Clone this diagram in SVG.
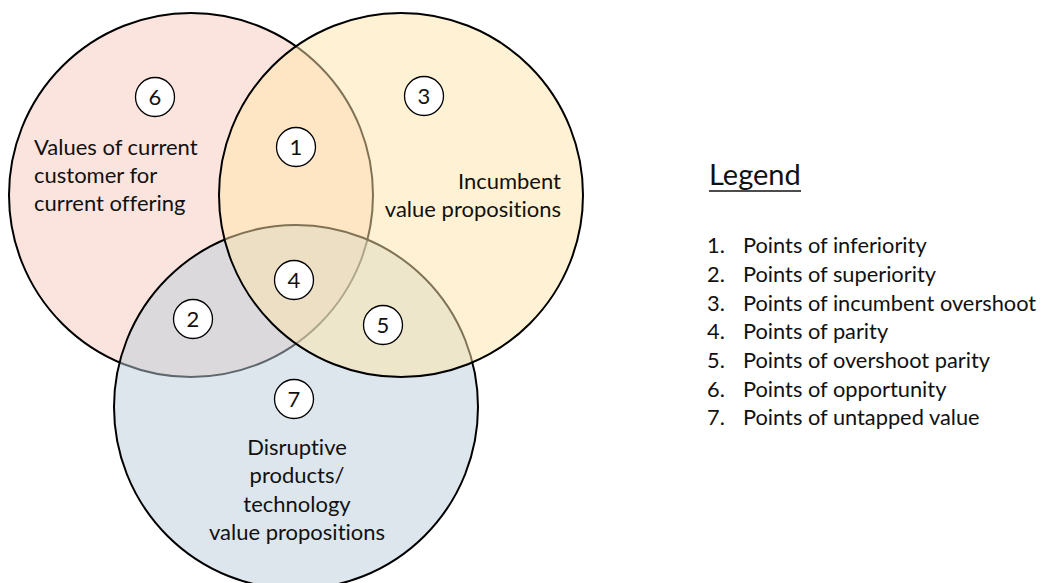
<svg xmlns="http://www.w3.org/2000/svg" width="1044" height="583" viewBox="0 0 1044 583">
  <style>
    text { font-variant-ligatures: none; font-family: Lato, "Liberation Sans", sans-serif; fill: #111; }
    .big { stroke: #000; stroke-width: 2; fill-opacity: 0.5; }
    .num circle { fill: #fff; stroke: #000; stroke-width: 1.3; }
    .num text { font-size: 22px; text-anchor: middle; }
    .lbl { font-size: 22px; }
    .leg { font-size: 21.8px; }
  </style>
  <rect width="1044" height="583" fill="#fff"/>
  <g id="circle-current">
    <circle class="big" cx="191" cy="195" r="182" fill="#F9C9BD"/>
  </g>
  <g id="circle-disruptive">
    <circle class="big" cx="296" cy="407" r="182" fill="#B9CDD9"/>
  </g>
  <g id="circle-incumbent">
    <circle class="big" cx="401" cy="195" r="182" fill="#FFE5A9"/>
  </g>
  <g id="labels">
    <text class="lbl" x="34" y="155">Values of current</text>
    <text class="lbl" x="34" y="183">customer for</text>
    <text class="lbl" x="34" y="211">current offering</text>
    <text class="lbl" x="561" y="189" text-anchor="end">Incumbent</text>
    <text class="lbl" x="561" y="217" text-anchor="end">value propositions</text>
    <text class="lbl" x="297" y="455" text-anchor="middle">Disruptive</text>
    <text class="lbl" x="297" y="483" text-anchor="middle">products/</text>
    <text class="lbl" x="297" y="512" text-anchor="middle">technology</text>
    <text class="lbl" x="297" y="540" text-anchor="middle">value propositions</text>
  </g>
  <g id="n1" class="num"><circle cx="296" cy="147" r="19.5"/><text x="296" y="155">1</text></g>
  <g id="n2" class="num"><circle cx="193" cy="319" r="19.5"/><text x="193" y="327">2</text></g>
  <g id="n3" class="num"><circle cx="424" cy="96" r="19.5"/><text x="424" y="104">3</text></g>
  <g id="n4" class="num"><circle cx="294" cy="280" r="19.5"/><text x="294" y="288">4</text></g>
  <g id="n5" class="num"><circle cx="383" cy="325" r="19.5"/><text x="383" y="333">5</text></g>
  <g id="n6" class="num"><circle cx="155" cy="97" r="19.5"/><text x="155" y="105">6</text></g>
  <g id="n7" class="num"><circle cx="294" cy="399" r="19.5"/><text x="294" y="407">7</text></g>
  <g id="legend">
    <text x="709" y="185" font-size="29">Legend</text>
    <line x1="709" y1="191" x2="801" y2="191" stroke="#111" stroke-width="1.5"/>
    <g class="leg">
      <text x="707" y="253">1.</text><text x="743" y="253">Points of inferiority</text>
      <text x="707" y="282">2.</text><text x="743" y="282">Points of superiority</text>
      <text x="707" y="311">3.</text><text x="743" y="311">Points of incumbent overshoot</text>
      <text x="707" y="339">4.</text><text x="743" y="339">Points of parity</text>
      <text x="707" y="368">5.</text><text x="743" y="368">Points of overshoot parity</text>
      <text x="707" y="397">6.</text><text x="743" y="397">Points of opportunity</text>
      <text x="707" y="425">7.</text><text x="743" y="425">Points of untapped value</text>
    </g>
  </g>
</svg>
